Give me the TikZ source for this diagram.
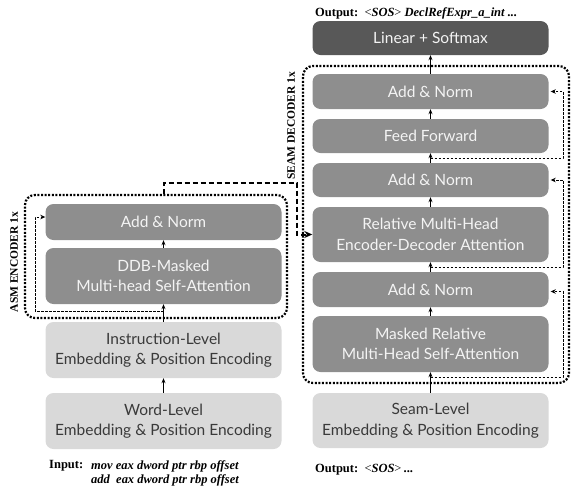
\documentclass[tikz,border=0pt]{standalone}
\usepackage{fontspec}
\setmainfont{Lato}
\newfontfamily\tnr{Liberation Serif}
\usetikzlibrary{arrows.meta}
\definecolor{midg}{HTML}{8E8E8E}
\definecolor{darkg}{HTML}{585858}
\definecolor{lightg}{HTML}{D9D9D9}
\definecolor{ltext}{HTML}{3A3A3A}
\definecolor{wtext}{HTML}{F4F4F4}
\begin{document}
\begin{tikzpicture}[x=1pt,y=-1pt,
  box/.style={rounded corners=8pt, minimum width=236pt, align=center, inner sep=0pt,
    font=\fontsize{15.5}{20.5}\selectfont},
  midbox/.style={box, fill=midg, text=wtext},
  darkbox/.style={box, fill=darkg, text=wtext},
  lightbox/.style={box, fill=lightg, text=ltext},
  arr/.style={-{Stealth[length=5pt,width=4pt]}, line width=0.9pt},
  res/.style={-{Stealth[length=5pt,width=4.5pt]}, line width=0.9pt, dash pattern=on 2.5pt off 1.5pt},
  skipline/.style={-{Stealth[length=8pt,width=7pt]}, line width=2pt, dash pattern=on 5pt off 3pt},
  border/.style={draw, line width=2.2pt, dash pattern=on 2pt off 1.6pt, rounded corners=10pt, inner sep=0pt},
  lbl/.style={font=\tnr\bfseries\fontsize{11.5}{13}\selectfont, inner sep=0pt},
  io/.style={font=\tnr\fontsize{12.5}{14}\selectfont, inner sep=0pt, anchor=west}
]
\useasboundingbox (0,0) rectangle (571,496);
% encoder
\node[border, minimum width=262pt, minimum height=123pt] (encB) at (156,256.5) {};
\node[midbox, minimum height=36pt] (encAN) at (163.5,222) {Add \& Norm};
\node[midbox, minimum height=56pt] (encAtt) at (163.5,276) {DDB-Masked\\Multi-head Self-Attention};
\node[lightbox, minimum height=56pt] (instr) at (163.5,350) {Instruction-Level\\Embedding \& Position Encoding};
\node[lightbox, minimum height=56pt] (word) at (163.5,421) {Word-Level\\Embedding \& Position Encoding};
\node[lbl, rotate=90] (encL) at (14,262) {ASM ENCODER 1x};
% decoder
\node[border, minimum width=266pt, minimum height=317pt] (decB) at (436,224.5) {};
\node[darkbox, minimum height=34pt] (lin) at (430.5,38) {Linear + Softmax};
\node[midbox, minimum height=35pt] (an3) at (430.5,91.5) {Add \& Norm};
\node[midbox, minimum height=34pt] (ff) at (430.5,136) {Feed Forward};
\node[midbox, minimum height=34pt] (an2) at (430.5,180) {Add \& Norm};
\node[midbox, minimum height=55pt] (rel) at (430.5,234.5) {Relative Multi-Head\\Encoder-Decoder Attention};
\node[midbox, minimum height=35pt] (an1) at (430.5,289.5) {Add \& Norm};
\node[midbox, minimum height=56pt] (mask) at (430.5,344) {Masked Relative\\Multi-Head Self-Attention};
\node[lightbox, minimum height=55pt] (seam) at (430.5,420.5) {Seam-Level\\Embedding \& Position Encoding};
\node[lbl, rotate=90] (decL) at (291,126) {SEAM DECODER 1x};
% texts
\node[io] (outTop) at (315,13) {\textbf{Output:}\ \ <\textbf{\textit{SOS}}>\ \textbf{\textit{DeclRefExpr\_a\_int ...}}};
\node[io] (outBot) at (315,470) {\textbf{Output:}\ \ <\textbf{\textit{SOS}}>\,\textbf{...}};
\node[io] (inL) at (49,466) {\textbf{Input:}};
\node[io] (in1) at (91,466) {\textbf{\textit{mov eax dword ptr rbp offset}}};
\node[io] (in2) at (91,480) {\textbf{\textit{add\ \ eax dword ptr rbp offset}}};
% main arrows
\draw[arr] (word) -- (instr);
\draw[arr] (instr) -- (encAtt);
\draw[arr] (encAtt) -- (encAN);
\draw[arr] (seam) -- (mask);
\draw[arr] (mask) -- (an1);
\draw[arr] (an1) -- (rel);
\draw[arr] (rel) -- (an2);
\draw[arr] (an2) -- (ff);
\draw[arr] (ff) -- (an3);
\draw[arr] (an3) -- (lin);
% residuals
\coordinate (e0) at (163.5,311);
\draw[res] (e0) -- (35,311) |- ([yshift=5pt]encAN.west);
\coordinate (d1) at (430.5,377);
\draw[res] (d1) -- (563,377) |- ([xshift=2pt,yshift=-2pt]an1.east);
\coordinate (d2) at (430.5,267);
\draw[res] (d2) -- (563,267) |- ([xshift=2pt]an2.east);
\coordinate (d3) at (430.5,158);
\draw[res] (d3) -- (563,158) |- ([xshift=2pt]an3.east);
% encoder to decoder
\draw[skipline] (encAN.north |- encB.north) |- (297,183) |- (rel.west);
\end{tikzpicture}
\end{document}
